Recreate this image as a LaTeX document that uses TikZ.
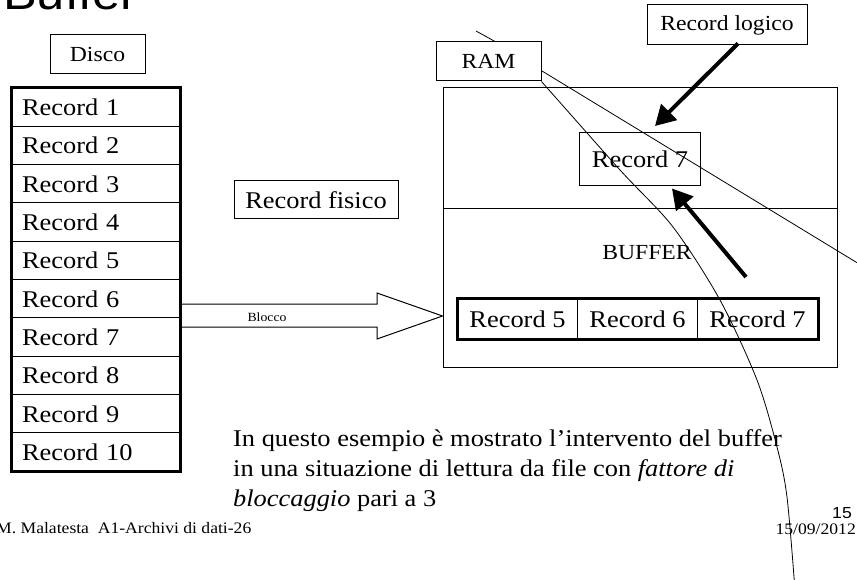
\documentclass[tikz,border=0pt]{standalone}
\usepackage{fontspec}
\setmainfont[FakeStretch=1.1]{Liberation Serif}
\newfontfamily\titlefont[FakeStretch=1.1]{Liberation Sans}
\usetikzlibrary{arrows.meta}
\begin{document}
\begin{tikzpicture}[x=1pt,y=-1pt,
  fs/.style={font=\fontsize{#1}{#1}\selectfont},
  box/.style={draw, line width=1pt, inner sep=0pt},
  rowbox/.style={draw, line width=1pt, minimum height=38.33pt, text width=148pt,
    inner xsep=10pt, inner ysep=0pt, align=left, fs=24},
  cell/.style={draw, line width=1pt, minimum width=120pt, minimum height=40pt, inner sep=0pt, fs=24},
  thickarrow/.style={line width=4pt, -{Triangle[length=20pt,width=22pt]}},
  thinline/.style={line width=0.8pt},
  txt/.style={anchor=base west, inner sep=0pt}
]
\useasboundingbox (0,0) rectangle (857,580);
\clip (0,0) rectangle (857,580);

% title
\node[txt, font=\titlefont\fontsize{46}{46}\selectfont] (title) at (3,10) {Buffer};

% disk
\node[box, minimum width=95pt, minimum height=39pt, fs=21.5] (disco) at (97.5,54.5) {Disco};
\foreach \i in {1,...,10}
  \node[rowbox] (r\i) at (96,{88+38.33*(\i-0.5)}) {Record \i};

% block arrow
\node[box, minimum width=394pt, minimum height=279pt] (mem) at (640,227.5) {};
\draw[line width=1pt, fill=white] (r6.east |- 0,304) -- (377,304) -- (377,293)
  -- (mem.west |- 0,316) -- (377,339) -- (377,327) -- (r6.east |- 0,327);
\draw[line width=3pt] (r1.north west) rectangle (r10.south east);
\node[fs=12.5] (blocco) at (267,317) {Blocco};

\node[box, minimum width=164pt, minimum height=38pt, fs=24] (fisico) at (316,200) {Record fisico};

% memory
\draw[line width=1pt] (mem.west |- 0,209) -- (mem.east |- 0,209);
\node[box, minimum width=105pt, minimum height=39pt, fs=21.5] (ram) at (488.5,61.5) {RAM};
\node[box, minimum width=160pt, minimum height=40pt, fs=21.5] (logico) at (727,25) {Record logico};
\node[box, minimum width=121pt, minimum height=53pt, fs=24] (rec7) at (640,159.5) {Record 7};
\node[fs=21.5] (buf) at (647,253) {BUFFER};

\node[cell] (b5) at (517.5,319) {Record 5};
\node[cell] (b6) at (637.5,319) {Record 6};
\node[cell] (b7) at (757.5,319) {Record 7};
\draw[line width=3pt] (b5.north west) rectangle (b7.south east);

% thick arrows
\coordinate (tipA) at (655,126);
\draw[thickarrow] ([xshift=11pt,yshift=2pt]logico.south) -- (tipA);
\coordinate (tailB) at (746,277);
\draw[thickarrow] (tailB) -- ([xshift=32pt,yshift=-2pt]rec7.south);

% thin lines
\coordinate (c1) at (476,31);
\draw[thinline] (c1) -- ([xshift=6.5pt]ram.north);
\coordinate (c2) at (870,270.6);
\draw[thinline] ([yshift=-9.2pt]ram.east) -- (c2);
\draw[thinline] plot[smooth] coordinates {(ram.south east) (620,170) (673,227) (720,300) (757,380) (777,447) (787,497) (795,590)};

% text
\node[txt, fs=24] (l1) at (233,446) {In questo esempio è mostrato l’intervento del buffer};
\node[txt, fs=24] (l2) at (233,476) {in una situazione di lettura da file con \textit{fattore di}};
\node[txt, fs=24] (l3) at (233,506) {\textit{bloccaggio} pari a 3};

% footer
\node[txt, fs=16] (foot) at (-4,533) {M. Malatesta\ \ A1-Archivi di dati-26};
\node[anchor=base east, inner sep=0pt, font=\titlefont\fontsize{16}{16}\selectfont] (pg) at (852,518) {15};
\node[anchor=base east, inner sep=0pt, fs=16] (date) at (856,534) {15/09/2012};
\end{tikzpicture}
\end{document}
